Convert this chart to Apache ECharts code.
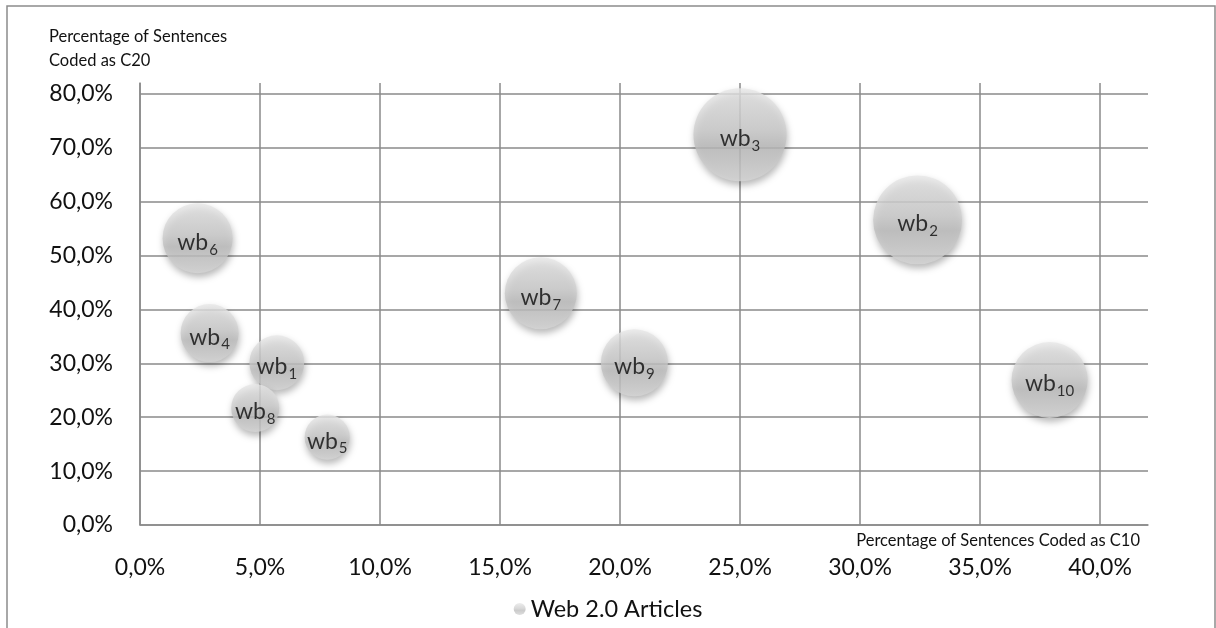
<!DOCTYPE html>
<html>
<head>
<meta charset="utf-8">
<script src="https://cdn.jsdelivr.net/npm/echarts@6/dist/echarts.min.js"></script>
<style>
  html, body { margin: 0; padding: 0; background: #fff; }
  #chart { width: 1216px; height: 628px; }
</style>
</head>
<body>
<div id="chart"></div>
<script>
// Article identifiers (drawn as wb with subscript)
const articleIds = [1, 2, 3, 4, 5, 6, 7, 8, 9, 10];
// Percentage of sentences coded as C10 (x)
const c10Share = [5.7, 32.4, 25.0, 2.9, 7.8, 2.4, 16.7, 4.8, 20.6, 37.9];
// Percentage of sentences coded as C20 (y)
const c20Share = [30.1, 56.6, 72.4, 35.6, 16.3, 53.2, 43.0, 21.7, 30.1, 26.9];
// Bubble size values (area-proportional)
const bubbleSize = [30, 79, 86.5, 33.6, 20.3, 49, 51.8, 23, 44.9, 57.8];

const seriesName = 'Web 2.0 Articles';
const xAxisTitle = 'Percentage of Sentences Coded as C10';
const yAxisTitle = ['Percentage of Sentences', 'Coded as C20'];

const FONT = 'Lato, "Open Sans", sans-serif';
const GRID_COLOR = '#8a8a8a';

const points = articleIds.map((id, i) => [c10Share[i], c20Share[i], bubbleSize[i], id]);

const bubbleFill = new echarts.graphic.LinearGradient(0, 0, 0, 1, [
  { offset: 0, color: '#e8e8e8' },
  { offset: 0.45, color: '#cfcfcf' },
  { offset: 0.62, color: '#bebebe' },
  { offset: 1, color: '#d6d6d6' }
]);

const pct = v => v.toFixed(1).replace('.', ',') + '%';

// grid lines every interval; the extra line at the axis max is hidden
const lineColors = n => { const a = []; for (let i = 0; i < n; i++) a.push(GRID_COLOR); a.push('rgba(0,0,0,0)'); return a; };

const chart = echarts.init(document.getElementById('chart'), null, { renderer: 'canvas' });

chart.setOption({
  backgroundColor: '#ffffff',
  animation: false,
  grid: { left: 140, top: 83, right: 68, bottom: 103, containLabel: false },
  xAxis: {
    type: 'value',
    min: 0, max: 42, interval: 5,
    axisLine: { show: true, lineStyle: { color: GRID_COLOR, width: 1.5 } },
    axisTick: { show: false },
    splitLine: { show: true, lineStyle: { color: lineColors(9), width: 1.5 } },
    axisLabel: {
      margin: 31,
      fontFamily: FONT, fontSize: 23, color: '#111',
      formatter: v => (v % 5 === 0 ? pct(v) : '')
    }
  },
  yAxis: {
    type: 'value',
    min: 0, max: 82, interval: 10,
    axisLine: { show: true, lineStyle: { color: GRID_COLOR, width: 1.5 } },
    axisTick: { show: false },
    splitLine: { show: true, lineStyle: { color: lineColors(9), width: 1.5 } },
    axisLabel: {
      margin: 27,
      fontFamily: FONT, fontSize: 23, color: '#111',
      formatter: v => (v % 10 === 0 ? pct(v) : '')
    }
  },
  legend: {
    data: [seriesName],
    left: 'center',
    top: 592,
    itemWidth: 12, itemHeight: 12, itemGap: 10,
    icon: 'circle',
    textStyle: { fontFamily: FONT, fontSize: 23.5, color: '#111' }
  },
  graphic: [
    {
      type: 'rect',
      shape: { x: 7, y: 6, width: 1208, height: 640 },
      style: { fill: 'none', stroke: '#8c8c8c', lineWidth: 1.5 },
      silent: true
    },
    {
      type: 'text', left: 49, top: 25,
      style: { text: yAxisTitle.join('\n'), fontFamily: FONT, fontSize: 16.5, lineHeight: 24, fill: '#111' }
    },
    {
      type: 'text', right: 76, top: 532,
      style: { text: xAxisTitle, fontFamily: FONT, fontSize: 16.5, fill: '#111', align: 'right' }
    }
  ],
  series: [{
    name: seriesName,
    type: 'scatter',
    data: points,
    symbol: 'circle',
    symbolSize: v => Math.sqrt(v[2]) * 10,
    itemStyle: {
      color: bubbleFill,
      shadowBlur: 7,
      shadowOffsetY: 4,
      shadowOffsetX: 1,
      shadowColor: 'rgba(0,0,0,0.35)'
    },
    label: {
      show: true,
      position: 'inside',
      offset: [0, 4],
      formatter: p => '{a|wb}{s|' + p.value[3] + '}',
      rich: {
        a: { fontFamily: FONT, fontSize: 23, color: '#0a0a0a' },
        s: { fontFamily: FONT, fontSize: 15, color: '#0a0a0a', padding: [15, 0, 0, 1] }
      }
    },
    emphasis: { disabled: true }
  }]
});
</script>
</body>
</html>
